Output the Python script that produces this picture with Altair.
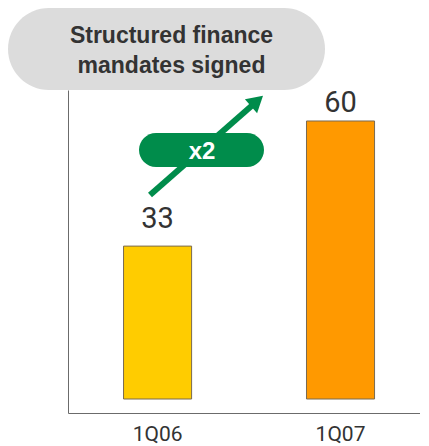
import altair as alt
import pandas as pd

quarters = ["1Q06", "1Q07"]
mandates = [33, 60]
bar_colors = ["#FFCC00", "#FF9900"]
title_lines = ["Structured finance", "mandates signed"]
growth_label = "x2"

df = pd.DataFrame({"quarter": quarters, "mandates": mandates})

NARROW = "Liberation Sans Narrow, Arial Narrow, Roboto, sans-serif"
BOLD = "Liberation Sans, Arial, sans-serif"
GREEN = "#008C4B"

x_scale = alt.Scale(domain=quarters, paddingInner=0.628, paddingOuter=0.276, align=0.55)
y_scale = alt.Scale(domain=[-3.02, 66.69], nice=False, zero=False)

base = alt.Chart(df)

bars = base.mark_bar(stroke="#7a6a50", strokeWidth=1).encode(
    x=alt.X("quarter:N", scale=x_scale, sort=quarters,
            axis=alt.Axis(title=None, labelAngle=0, ticks=False, tickSize=0,
                          labelPadding=10, labelFont=NARROW, labelFontSize=21,
                          labelColor="#333333", domainColor="#6b6b6b", grid=False)),
    y=alt.Y("mandates:Q", scale=y_scale,
            axis=alt.Axis(title=None, labels=False, ticks=False, grid=False,
                          domainColor="#6b6b6b")),
    y2=alt.datum(0),
    color=alt.Color("quarter:N", scale=alt.Scale(domain=quarters, range=bar_colors), legend=None),
)

lab1 = base.transform_filter(alt.datum.quarter == quarters[0]).mark_text(
    font=NARROW, fontSize=29, color="#333333", baseline="alphabetic", dy=-18
).encode(x=alt.X("quarter:N", scale=x_scale, sort=quarters),
         y=alt.Y("mandates:Q", scale=y_scale), text="mandates:Q")

lab2 = base.transform_filter(alt.datum.quarter == quarters[1]).mark_text(
    font=NARROW, fontSize=29, color="#333333", baseline="alphabetic", dy=-9
).encode(x=alt.X("quarter:N", scale=x_scale, sort=quarters),
         y=alt.Y("mandates:Q", scale=y_scale), text="mandates:Q")

one = alt.Data(values=[{"t": 0}])

title_box = alt.Chart(one).mark_rect(cornerRadius=41, color="#dcdcdc").encode(
    x=alt.value(-60), x2=alt.value(257), y=alt.value(-82), y2=alt.value(0))

title_text = alt.Chart(alt.Data(values=[{"t": title_lines}])).mark_text(
    font=BOLD, fontWeight="bold", fontSize=23, color="#333333",
    baseline="alphabetic", align="center", lineHeight=30
).encode(x=alt.value(103.5), y=alt.value(-47), text="t:N")

arrow_line = alt.Chart(one).mark_rule(strokeWidth=6, color=GREEN, strokeCap="butt").encode(
    x=alt.value(82), y=alt.value(105), x2=alt.value(188), y2=alt.value(12))

arrow_head = alt.Chart(one).mark_point(shape="triangle-up", filled=True, opacity=1,
                                        color=GREEN, size=340, angle=48.7).encode(
    x=alt.value(189), y=alt.value(11))

pill = alt.Chart(one).mark_rect(cornerRadius=17, color=GREEN).encode(
    x=alt.value(71), x2=alt.value(196), y=alt.value(43), y2=alt.value(77))

pill_text = alt.Chart(alt.Data(values=[{"t": growth_label}])).mark_text(
    font=BOLD, fontWeight="bold", fontSize=24, color="white",
    baseline="alphabetic", align="center"
).encode(x=alt.value(134), y=alt.value(69), text="t:N")

chart = alt.layer(
    bars, lab1, lab2, title_box, title_text, arrow_line, arrow_head, pill, pill_text
).properties(width=352, height=323, padding=0).configure_view(stroke=None)

chart.save("out.html", embed_options={"renderer": "svg", "actions": False})
